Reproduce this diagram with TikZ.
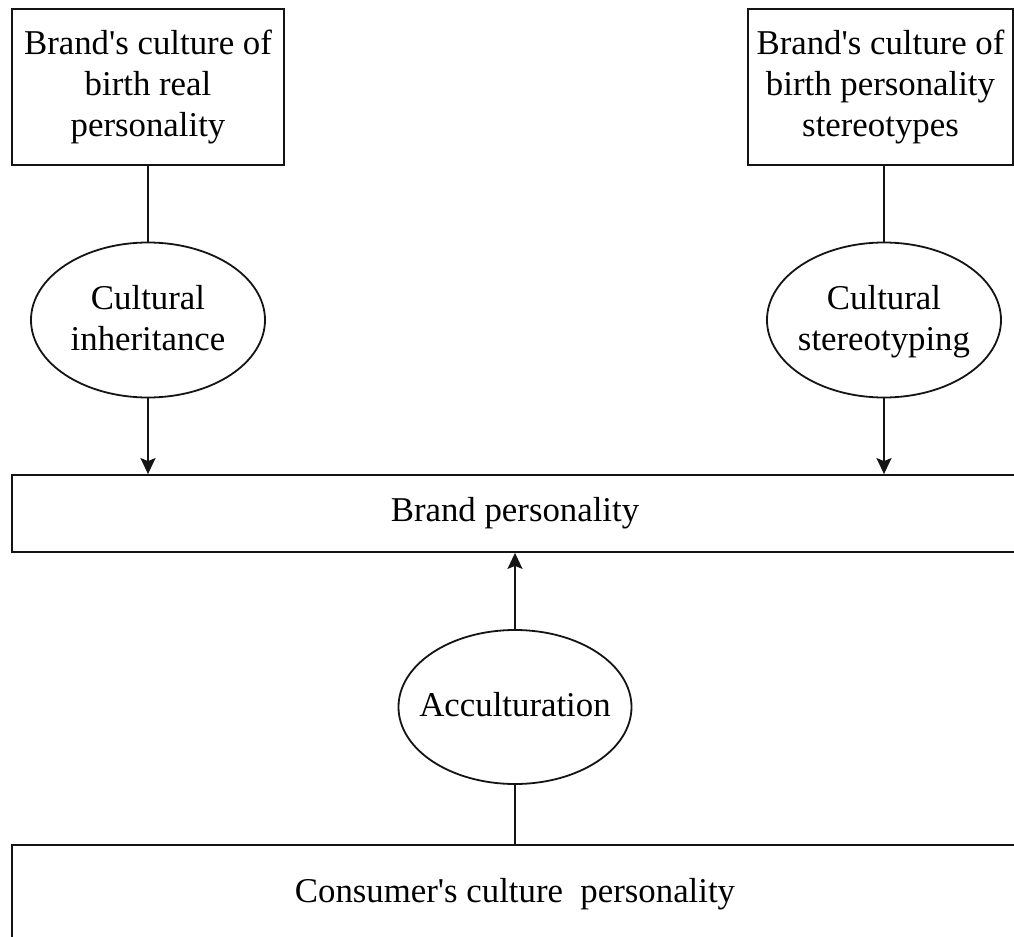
\documentclass[tikz,border=0pt]{standalone}
\usepackage{fontspec}
\setmainfont{Liberation Serif}
\usepackage{tikz}
\usetikzlibrary{shapes.geometric, arrows.meta, positioning}
\definecolor{mydark}{RGB}{20,20,20}
\newcommand{\apos}{\textquotesingle}
\tikzset{
  block/.style={rectangle, draw=mydark, fill=white, align=center,
    inner sep=0pt, line width=0.9pt,
    font=\fontsize{17.4}{20.5}\selectfont},
  oval/.style={ellipse, draw=mydark, fill=white, align=center,
    inner xsep=-10pt, inner ysep=0pt, text depth=2.5pt,
    minimum width=117pt, minimum height=77.5pt,
    line width=0.9pt, font=\fontsize{17.4}{20.5}\selectfont},
  arrow/.style={-{Stealth[length=8pt, width=7.5pt, inset=1.5pt]},
    line width=0.9pt, color=mydark},
  line/.style={line width=0.9pt, color=mydark}
}
\begin{document}
\begin{tikzpicture}[x=0.5pt, y=-0.5pt]
  \useasboundingbox (0,0) rectangle (1014,937);
  \clip (0,0) rectangle (1014,937);
  % Origin boxes
  \node[block, minimum width=136pt, minimum height=78pt] (realbox) at (148,87)
    {Brand\apos s culture of\\birth real\\personality};
  \node[block, minimum width=132.5pt, minimum height=78pt] (stereobox) at (880.5,87)
    {Brand\apos s culture of\\birth personality\\stereotypes};
  % Processes
  \node[oval] (inherit) at (148,320) {Cultural\\inheritance};
  \node[oval] (stereo) at (884,320) {Cultural\\stereotyping};
  % Brand personality
  \node[block, minimum width=503pt, minimum height=38.5pt] (brand) at (515,513.5)
    {Brand personality};
  \node[oval, minimum width=116.5pt, minimum height=77pt] (accult) at (515,707)
    {Acculturation};
  \node[block, minimum width=503pt, minimum height=49pt] (consumer) at (515,894)
    {Consumer\apos s culture\ \ personality};
  % Connectors
  \draw[line] (realbox) -- (inherit);
  \draw[line] (stereobox.south -| stereo) -- (stereo);
  \draw[arrow] (inherit) -- (inherit |- brand.north);
  \draw[arrow] (stereo) -- (stereo |- brand.north);
  \draw[line] (consumer) -- (accult);
  \draw[arrow] (accult) -- (brand);
\end{tikzpicture}
\end{document}
